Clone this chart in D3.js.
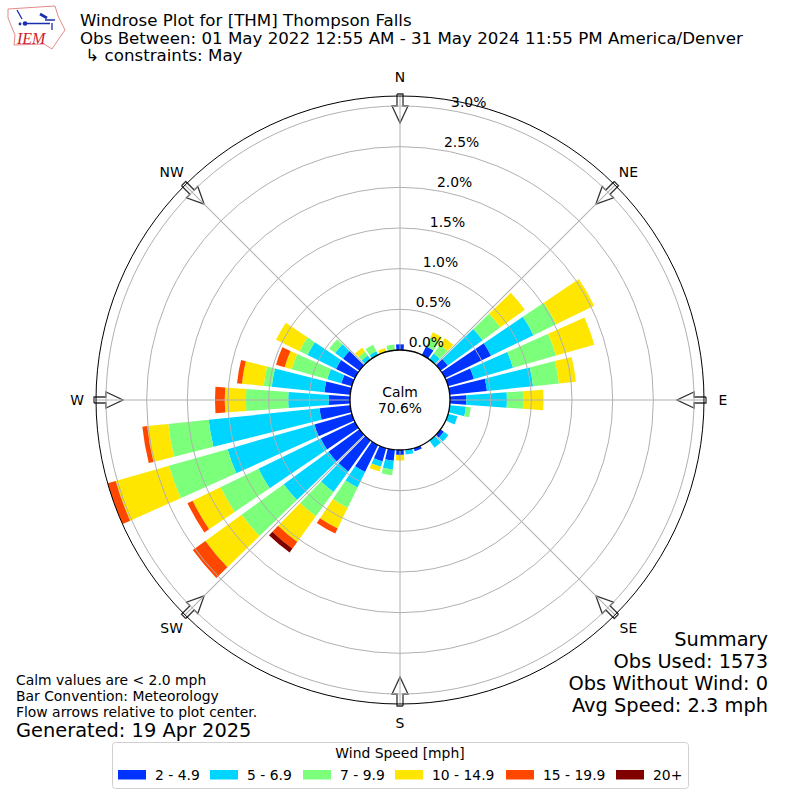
<!DOCTYPE html>
<html lang="en">
<head>
  <meta charset="UTF-8">
  <title>Windrose Plot</title>
  <script src="https://d3js.org/d3.v7.min.js"></script>
  <style>
    html, body { margin: 0; padding: 0; background: #fff; }
    svg { display: block; }
    text { font-family: "DejaVu Sans", sans-serif; fill: #000; }
  </style>
</head>
<body>
  <svg width="800" height="800"></svg>

  <script>
    // percent of obs per direction, one list per speed bin
    const directions = d3.range(0, 360, 10);
    const speedBins = ["2 - 4.9", "5 - 6.9", "7 - 9.9", "10 - 14.9", "15 - 19.9", "20+"];
    const binColors = ["#0033ff", "#00d5ff", "#7cff7a", "#ffe600", "#ff4700", "#800000"];

    //                0    10   20   30   40   50   60   70   80   90   100  110  120  130  140  150  160  170  180  190  200  210  220  230  240  250  260  270  280  290  300  310  320  330  340  350
    const bin2to5   = [.07, 0,   0,   .12, 0,   .11, .63, .33, .46, .20, 0,   0,   0,   .05, 0,   0,   .04, 0,   .06, .135,.17, .37, .47, .47, .47, .48, .38, .26, .32, .135,.26, .25, 0,   0,   0,   0];
    const bin5to7   = [0,   0,   0,   0,   .09, .53, .58, .50, .57, .50, .20, .12, 0,   .07, .11, 0,   0,   .06, 0,   .11, .07, .21, .31, .68, .85, 1.11,1.37,.50, .65, .18, .39, .12, .06, .05, 0,   0];
    const bin7to10  = [0,   0,   0,   .12, .135,.27, .31, .55, .32, .20, .06, 0,   0,   0,   0,   0,   0,   0,   0,   .07, 0,   .28, .37, .64, .52, .75, .50, .52, .10, .455,.11, .09, .06, .09, 0,   .07];
    const bin10to15 = [0,   0,   0,   .07, .10, .37, .52, .49, .21, .25, 0,   0,   0,   0,   0,   0,   0,   0,   .07, 0,   .06, .28, .39, .55, .38, .68, .26, .26, .27, .09, .32, 0,   .06, 0,   .05, 0];
    const bin15to20 = [0,   0,   0,   0,   0,   0,   0,   0,   0,   0,   0,   0,   0,   0,   0,   0,   0,   0,   0,   0,   0,   .07, .10, .19, .07, .14, .06, .12, .06, .11, 0,   0,   0,   0,   0,   0];
    const bin20up   = [0,   0,   0,   0,   0,   0,   0,   0,   0,   0,   0,   0,   0,   0,   0,   0,   0,   0,   0,   0,   0,   0,   .06, 0,   0,   0,   0,   0,   0,   0,   0,   0,   0,   0,   0,   0];
    const binValues = [bin2to5, bin5to7, bin7to10, bin10to15, bin15to20, bin20up];

    const radialTicks = [0, 0.5, 1, 1.5, 2, 2.5, 3];
    const compass = ["N", "NE", "E", "SE", "S", "SW", "W", "NW"];
    const titleLines = [
      "Windrose Plot for [THM] Thompson Falls",
      "Obs Between: 01 May 2022 12:55 AM - 31 May 2024 11:55 PM America/Denver",
      " \u21b3 constraints: May"
    ];
    const calmLines = ["Calm", "70.6%"];
    const summaryLines = ["Summary", "Obs Used: 1573", "Obs Without Wind: 0", "Avg Speed: 2.3 mph"];
    const noteLines = ["Calm values are < 2.0 mph", "Bar Convention: Meteorology", "Flow arrows relative to plot center."];
    const generated = "Generated: 19 Apr 2025";

    const cx = 400, cy = 400;
    const outerR = 304;
    const rad = d => d * Math.PI / 180;

    const r = d3.scaleLinear().domain([0, 3]).range([50, 294]);

    const svg = d3.select("svg");
    const plot = svg.append("g").attr("transform", `translate(${cx},${cy})`);

    svg.append("defs").append("clipPath").attr("id", "rose")
      .append("circle").attr("cx", 0).attr("cy", 0).attr("r", outerR);

    // flow arrows go below everything else, tail on the outer ring
    const arrowLine = d3.line();
    const arrow = [[-3, -306], [3, -306], [3, -294], [8, -294], [0, -277], [-8, -294], [-3, -294], [-3, -306]];
    plot.append("g").selectAll("path")
      .data(compass)
      .enter().append("path")
      .attr("transform", (d, i) => `rotate(${i * 45})`)
      .attr("d", arrowLine(arrow))
      .attr("fill", "#fff")
      .attr("stroke", "#333")
      .attr("stroke-width", 1.3);

    // stacked bars
    const table = directions.map((d, i) => {
      const row = { dir: d };
      speedBins.forEach((b, j) => { row[b] = binValues[j][i]; });
      return row;
    });
    const series = d3.stack().keys(speedBins)(table);
    const arc = d3.arc();
    const halfWidth = rad(4.1);

    plot.append("g").attr("clip-path", "url(#rose)")
      .selectAll("g")
      .data(series)
      .enter().append("g")
      .attr("fill", (d, i) => binColors[i])
      .selectAll("path")
      .data(d => d.filter(v => v[1] > v[0]))
      .enter().append("path")
      .attr("d", v => arc({
        innerRadius: r(v[0]),
        outerRadius: r(v[1]),
        startAngle: rad(v.data.dir) - halfWidth,
        endAngle: rad(v.data.dir) + halfWidth
      }));

    // grid sits on top of the bars
    const grid = plot.append("g").attr("fill", "none").attr("stroke", "#b0b0b0").attr("stroke-width", 1);
    grid.selectAll("circle")
      .data(radialTicks.slice(1))
      .enter().append("circle")
      .attr("r", d => r(d));
    grid.selectAll("line")
      .data(compass)
      .enter().append("line")
      .attr("transform", (d, i) => `rotate(${i * 45})`)
      .attr("y1", -50)
      .attr("y2", -outerR);

    plot.append("circle").attr("r", outerR).attr("fill", "none").attr("stroke", "#000").attr("stroke-width", 1);
    plot.append("circle").attr("r", 50).attr("fill", "#fff").attr("stroke", "#000").attr("stroke-width", 1.3);

    // radial labels along the 10 degree spoke
    plot.append("g").selectAll("text")
      .data(radialTicks)
      .enter().append("text")
      .attr("x", d => r(d) * Math.sin(rad(10)))
      .attr("y", d => -r(d) * Math.cos(rad(10)) - 3.5)
      .attr("font-size", 13.9)
      .text(d => d.toFixed(1) + "%");

    // compass labels
    plot.append("g").selectAll("text")
      .data(compass)
      .enter().append("text")
      .attr("x", (d, i) => 323 * Math.sin(rad(i * 45)))
      .attr("y", (d, i) => -323 * Math.cos(rad(i * 45)))
      .attr("text-anchor", "middle")
      .attr("dominant-baseline", "central")
      .attr("font-size", 13.9)
      .text(d => d);

    plot.append("g").selectAll("text")
      .data(calmLines)
      .enter().append("text")
      .attr("y", (d, i) => -3 + i * 16)
      .attr("text-anchor", "middle")
      .attr("font-size", 13.9)
      .text(d => d);

    // header
    svg.append("g").selectAll("text")
      .data(titleLines)
      .enter().append("text")
      .attr("x", 80)
      .attr("y", (d, i) => 26 + i * 17.5)
      .attr("font-size", 16.67)
      .style("white-space", "pre")
      .text(d => d);

    // logo
    const logo = svg.append("g").attr("fill", "none");
    logo.append("path")
      .attr("d", "M8,9 L55,6 L58,16 L65,30 L58,40 L52,49 L44,44 L14,45 L15,35 L8,18 Z")
      .attr("stroke", "#e58a8a").attr("stroke-width", 1);
    logo.append("path")
      .attr("d", "M26,23.5 L50,23.5 M45,20 L55,20 M52,23 L52,30 M17,10 L22,19")
      .attr("stroke", "#1a2fb0").attr("stroke-width", 1.3);
    logo.append("path")
      .attr("d", "M40,14 L47,18")
      .attr("stroke", "#1a2fb0").attr("stroke-width", 2.6);
    logo.append("circle").attr("cx", 25).attr("cy", 23.5).attr("r", 2.3).attr("fill", "#1a2fb0");
    logo.append("circle").attr("cx", 20).attr("cy", 24).attr("r", 1.4).attr("fill", "#1a2fb0");
    logo.append("text")
      .attr("x", 17).attr("y", 44)
      .attr("font-size", 16)
      .style("font-family", "'Liberation Serif', serif")
      .style("font-style", "italic")
      .style("fill", "#d0202a")
      .text("IEM");

    // summary, bottom right
    svg.append("g").selectAll("text")
      .data(summaryLines)
      .enter().append("text")
      .attr("x", 768)
      .attr("y", (d, i) => 646 + i * 22)
      .attr("text-anchor", "end")
      .attr("font-size", 19.4)
      .text(d => d);

    // notes, bottom left
    svg.append("g").selectAll("text")
      .data(noteLines)
      .enter().append("text")
      .attr("x", 16)
      .attr("y", (d, i) => 684.5 + i * 16)
      .attr("font-size", 13.9)
      .text(d => d);
    svg.append("text")
      .attr("x", 16).attr("y", 737)
      .attr("font-size", 19.4)
      .text(generated);

    // legend
    const legend = svg.append("g");
    legend.append("rect")
      .attr("x", 112.5).attr("y", 742.5)
      .attr("width", 576).attr("height", 46)
      .attr("rx", 3)
      .attr("fill", "#fff").attr("stroke", "#d0d0d0");
    legend.append("text")
      .attr("x", 400).attr("y", 758)
      .attr("text-anchor", "middle")
      .attr("font-size", 13.9)
      .text("Wind Speed [mph]");
    const legendX = [118, 210, 303, 395, 506, 616];
    const items = legend.selectAll("g")
      .data(speedBins)
      .enter().append("g")
      .attr("transform", (d, i) => `translate(${legendX[i]},770)`);
    items.append("rect")
      .attr("width", 28).attr("height", 9.5)
      .attr("fill", (d, i) => binColors[i]);
    items.append("text")
      .attr("x", 37).attr("y", 9.5)
      .attr("font-size", 13.9)
      .text(d => d);
  </script>
</body>
</html>
